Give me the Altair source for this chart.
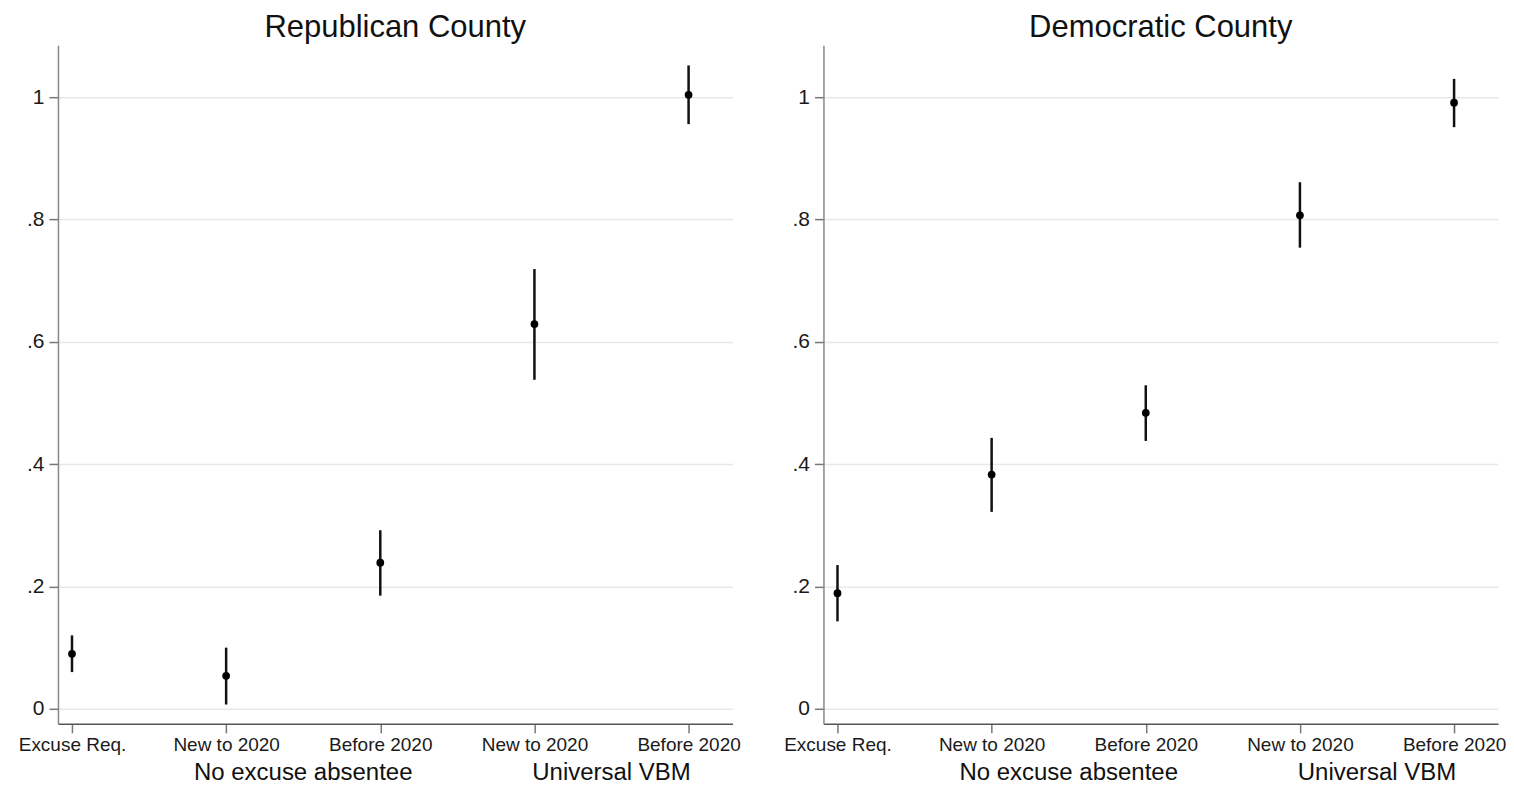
import altair as alt
import pandas as pd

# ---- data ----
categories = ["Excuse Req.", "New to 2020", "Before 2020", "New to 2020", "Before 2020"]
positions = [0, 1, 2, 3, 4]

rep_title = "Republican County"
rep_est = [0.090, 0.054, 0.239, 0.629, 1.004]
rep_lo = [0.060, 0.007, 0.185, 0.538, 0.956]
rep_hi = [0.120, 0.100, 0.292, 0.719, 1.052]

dem_title = "Democratic County"
dem_est = [0.189, 0.383, 0.484, 0.807, 0.991]
dem_lo = [0.143, 0.322, 0.438, 0.754, 0.951]
dem_hi = [0.235, 0.443, 0.529, 0.861, 1.030]

group_labels = ["No excuse absentee", "Universal VBM"]
group_pos = [1.5, 3.5]

y_ticks = [0, 0.2, 0.4, 0.6, 0.8, 1]

# ---- layout / style ----
W, H = 675, 679
FONT = "Liberation Sans"
X_DOMAIN = [-0.091, 4.285]
Y_DOMAIN = [-0.0245, 1.085]

label_expr = "[" + ",".join("'" + c + "'" for c in categories) + "][datum.value]"
y_label_expr = ("datum.value == 0 ? '0' : datum.value == 1 ? '1' : "
                "replace(format(datum.value, '.1f'), '0.', '.')")

x_axis = alt.Axis(values=positions, labelExpr=label_expr, title=None, grid=False,
                  domainColor="#555555", domainWidth=1.5, tickColor="#777777",
                  tickWidth=1.5, tickSize=9, labelFontSize=19, labelFont=FONT,
                  labelColor="#1a1a1a", labelPadding=3)
y_axis = alt.Axis(values=y_ticks, labelExpr=y_label_expr, title=None, grid=True,
                  gridColor="#e8e8e8", gridWidth=1.5, domainColor="#888888",
                  domainWidth=1.5, tickColor="#777777", tickWidth=1.5, tickSize=9,
                  labelFontSize=21, labelFont=FONT, labelColor="#1a1a1a",
                  labelPadding=5)

x_scale = alt.Scale(domain=X_DOMAIN, nice=False, zero=False)
y_scale = alt.Scale(domain=Y_DOMAIN, nice=False, zero=False)

gdf = pd.DataFrame({"gpos": group_pos, "glabel": group_labels})


def panel(title, est, lo, hi):
    df = pd.DataFrame({"pos": positions, "est": est, "lo": lo, "hi": hi})
    bars = alt.Chart(df).mark_rule(strokeWidth=2.5, color="#111111").encode(
        x=alt.X("pos:Q", scale=x_scale, axis=x_axis),
        y=alt.Y("lo:Q", scale=y_scale, axis=y_axis),
        y2="hi:Q",
    )
    pts = alt.Chart(df).mark_point(filled=True, size=60, color="#000000",
                                   opacity=1).encode(
        x=alt.X("pos:Q", scale=x_scale, axis=x_axis),
        y=alt.Y("est:Q", scale=y_scale, axis=y_axis),
    )
    groups = alt.Chart(gdf).mark_text(fontSize=24, font=FONT, baseline="middle",
                                      align="center", color="#111111").encode(
        x=alt.X("gpos:Q", scale=x_scale, axis=x_axis),
        y=alt.value(H + 49),
        text="glabel:N",
    )
    return alt.layer(bars, pts, groups).properties(
        width=W, height=H,
        title=alt.TitleParams(title, fontSize=31, font=FONT, fontWeight="normal",
                              color="#111111", anchor="middle", frame="group",
                              baseline="alphabetic", offset=-23),
    )


chart = alt.hconcat(
    panel(rep_title, rep_est, rep_lo, rep_hi),
    panel(dem_title, dem_est, dem_lo, dem_hi),
    spacing=43,
).properties(
    padding={"left": 10, "top": 4, "right": 0, "bottom": 0},
    background="white",
).configure_view(strokeWidth=0)

chart.save("out.html", embed_options={"renderer": "svg", "actions": False})
